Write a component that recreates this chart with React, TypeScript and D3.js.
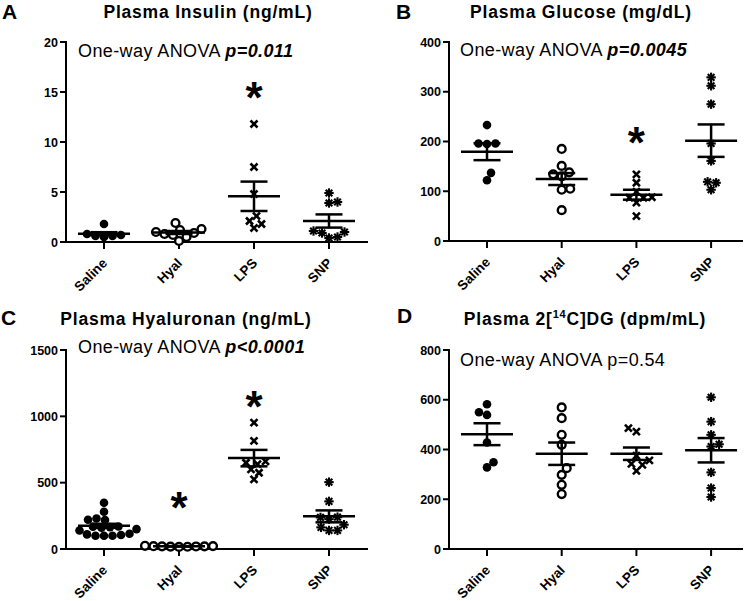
import React from 'react';
import * as d3 from 'd3';

// ---------- DATA ----------
const groups = ['Saline', 'Hyal', 'LPS', 'SNP'];

// A: Plasma insulin (ng/mL)
const insulinSaline = [1.8, 0.8, 0.7, 0.6, 0.6, 0.5];
const insulinHyal = [1.9, 1.3, 1.2, 1.0, 0.9, 0.8, 0.7, 0.5, 0.1];
const insulinLPS = [11.8, 7.5, 4.8, 2.6, 2.1, 1.8, 1.4];
const insulinSNP = [4.9, 4.0, 3.9, 1.1, 1.0, 0.9, 0.5, 0.4];
const insulinMean = [0.83, 0.95, 4.57, 2.1];
const insulinSEM = [0.15, 0.15, 1.47, 0.66];
const insulinTicks = [0, 5, 10, 15, 20];
const insulinStars = [{ group: 'LPS', value: 15.5 }];

// B: Plasma glucose (mg/dL)
const glucoseSaline = [233, 196, 195, 196, 137, 122];
const glucoseHyal = [185, 151, 138, 134, 130, 105, 103, 62];
const glucoseLPS = [134, 117, 99, 88, 87, 87, 77, 50];
const glucoseSNP = [329, 312, 275, 196, 161, 119, 117, 103];
const glucoseMean = [179.5, 124.5, 93, 201.7];
const glucoseSEM = [17, 12, 10, 32.6];
const glucoseTicks = [0, 100, 200, 300, 400];
const glucoseStars = [{ group: 'LPS', value: 218 }];

// C: Plasma hyaluronan (ng/mL)
const haSaline = [348, 281, 230, 220, 218, 170, 165, 168, 160, 150, 140, 110, 105, 100, 100, 100, 115];
const haHyal = [24, 22, 21, 20, 20, 19, 18, 17, 16];
const haLPS = [953, 815, 660, 650, 640, 600, 575, 525];
const haSNP = [504, 359, 240, 238, 225, 183, 163, 140, 140];
const haMean = [175, 20, 685, 246];
const haSEM = [15, 1.5, 62, 45];
const haTicks = [0, 500, 1000, 1500];
const haStars = [{ group: 'Hyal', value: 390 }, { group: 'LPS', value: 1150 }];

// D: Plasma 2[14C]DG (dpm/mL)
const dgSaline = [582, 550, 539, 428, 349, 328];
const dgHyal = [569, 526, 459, 419, 325, 298, 258, 221];
const dgLPS = [486, 472, 375, 356, 342, 338, 314];
const dgSNP = [610, 512, 459, 421, 412, 308, 245, 209];
const dgMean = [461.5, 383, 383, 397];
const dgSEM = [44, 45, 25, 49];
const dgTicks = [0, 200, 400, 600, 800];
const dgStars: { group: string; value: number }[] = [];

// ---------- STYLE / LAYOUT ----------
const FONT = "Arial, 'Liberation Sans', Helvetica, sans-serif";

type Star = { group: string; value: number };
type Layout = {
  axisX: number; axisEnd: number; y0: number; yTop: number; first: number; step: number;
  titleX: number; titleY: number; letterX: number; letterY: number; anovaX: number; anovaY: number;
};
type Cfg = {
  letter: string;
  title: React.ReactNode;
  anova: string; pText: string; pBold: boolean;
  max: number; ticks: number[];
  values: number[][]; means: number[]; sems: number[]; stars: Star[];
  layout: Layout;
};

function swarm(vals: number[], y: (v: number) => number, D: number) {
  const sorted = [...vals].sort((a, b) => a - b);
  const placed: { v: number; dx: number; py: number }[] = [];
  let side = 1;
  for (const v of sorted) {
    const py = y(v);
    let chosen = 0;
    for (let k = 0; k < 400; k++) {
      const mag = k * 0.5;
      const cands = k === 0 ? [0] : [side * mag, -side * mag];
      let found: number | null = null;
      for (const c of cands) {
        if (placed.every(p => (c - p.dx) ** 2 + (py - p.py) ** 2 >= D * D)) { found = c; break; }
      }
      if (found !== null) { chosen = found; break; }
    }
    if (chosen !== 0) side = -Math.sign(chosen);
    placed.push({ v, dx: chosen, py });
  }
  return placed;
}

function Marker({ type, x, y }: { type: number; x: number; y: number }) {
  if (type === 0) return <circle cx={x} cy={y} r={4.3} fill="#000" />;
  if (type === 1) return <circle cx={x} cy={y} r={3.9} fill="#fff" stroke="#000" strokeWidth={2.4} />;
  if (type === 2) {
    const s = 3.5;
    return (
      <g stroke="#000" strokeWidth={2.6} strokeLinecap="butt">
        <line x1={x - s} y1={y - s} x2={x + s} y2={y + s} />
        <line x1={x - s} y1={y + s} x2={x + s} y2={y - s} />
      </g>
    );
  }
  const r = 4.7;
  const angles = [0, 45, 90, 135];
  return (
    <g stroke="#000" strokeWidth={2.1}>
      {angles.map(a => {
        const rad = (a * Math.PI) / 180;
        return <line key={a} x1={x - r * Math.cos(rad)} y1={y - r * Math.sin(rad)} x2={x + r * Math.cos(rad)} y2={y + r * Math.sin(rad)} />;
      })}
      <circle cx={x} cy={y} r={2} fill="#000" stroke="none" />
    </g>
  );
}

function Panel({ cfg }: { cfg: Cfg }) {
  const L = cfg.layout;
  const y = d3.scaleLinear().domain([0, cfg.max]).range([L.y0, L.yTop]);
  const x = d3.scalePoint<string>().domain(groups).range([L.first, L.first + L.step * (groups.length - 1)]);
  const meanHalf = 26;
  const capHalf = 13.5;
  const starSize = 44;
  return (
    <g>
      <text x={L.letterX} y={L.letterY} fontFamily={FONT} fontWeight="bold" fontSize={21}>{cfg.letter}</text>
      <text x={L.titleX} y={L.titleY} fontFamily={FONT} fontWeight="bold" fontSize={17.5} letterSpacing={0.8} textAnchor="middle">{cfg.title}</text>
      <text x={L.anovaX} y={L.anovaY} fontFamily={FONT} fontSize={18} letterSpacing={0.4}>
        <tspan>{cfg.anova}</tspan>
        <tspan fontWeight={cfg.pBold ? 'bold' : 'normal'} fontStyle={cfg.pBold ? 'italic' : 'normal'}>{cfg.pText}</tspan>
      </text>
      {/* axes */}
      <line x1={L.axisX} y1={L.yTop - 1} x2={L.axisX} y2={L.y0 + 1} stroke="#000" strokeWidth={2} />
      <line x1={L.axisX - 1} y1={L.y0} x2={L.axisEnd} y2={L.y0} stroke="#000" strokeWidth={2} />
      {cfg.ticks.map(t => (
        <g key={t}>
          <line x1={L.axisX - 6} x2={L.axisX} y1={y(t)} y2={y(t)} stroke="#000" strokeWidth={2} />
          <text x={L.axisX - 8} y={y(t)} dy="0.36em" textAnchor="end" fontFamily={FONT} fontWeight="bold" fontSize={12.5}>{t}</text>
        </g>
      ))}
      {groups.map(g => (
        <g key={g}>
          <line x1={x(g)} x2={x(g)} y1={L.y0} y2={L.y0 + 7} stroke="#000" strokeWidth={2} />
          <text transform={`translate(${(x(g) as number) + 4},${L.y0 + 22}) rotate(-45)`} textAnchor="end" fontFamily={FONT} fontWeight="bold" fontSize={13.5}>{g}</text>
        </g>
      ))}
      {/* points */}
      {cfg.values.map((vals, gi) => {
        const cx = x(groups[gi]) as number;
        const pts = swarm(vals, y, 8.3);
        return (
          <g key={gi}>
            {pts.map((p, i) => <Marker key={i} type={gi} x={cx + p.dx} y={p.py} />)}
          </g>
        );
      })}
      {/* mean ± SEM */}
      {cfg.means.map((m, gi) => {
        const cx = x(groups[gi]) as number;
        const hi = y(m + cfg.sems[gi]);
        const lo = y(m - cfg.sems[gi]);
        return (
          <g key={gi} stroke="#000" strokeWidth={2.5}>
            <line x1={cx - meanHalf} x2={cx + meanHalf} y1={y(m)} y2={y(m)} />
            <line x1={cx} x2={cx} y1={hi} y2={lo} />
            <line x1={cx - capHalf} x2={cx + capHalf} y1={hi} y2={hi} />
            <line x1={cx - capHalf} x2={cx + capHalf} y1={lo} y2={lo} />
          </g>
        );
      })}
      {cfg.stars.map((s, i) => (
        <text key={i} x={x(s.group)} y={y(s.value)} dy={starSize * 0.58} textAnchor="middle" fontFamily={FONT} fontWeight="bold" fontSize={starSize}>*</text>
      ))}
    </g>
  );
}

const leftTop: Layout = { axisX: 66, axisEnd: 368, y0: 242, yTop: 42, first: 104, step: 75, titleX: 208, titleY: 18, letterX: 2, letterY: 19, anovaX: 78, anovaY: 57 };
const rightTop: Layout = { axisX: 449, axisEnd: 743, y0: 241, yTop: 42, first: 487, step: 74.7, titleX: 581, titleY: 18, letterX: 396, letterY: 19, anovaX: 460, anovaY: 56 };
const leftBottom: Layout = { axisX: 66, axisEnd: 368, y0: 549, yTop: 350, first: 104, step: 75, titleX: 186, titleY: 325, letterX: 1, letterY: 325, anovaX: 78, anovaY: 353 };
const rightBottom: Layout = { axisX: 449, axisEnd: 743, y0: 549, yTop: 350, first: 487, step: 74.7, titleX: 585, titleY: 325, letterX: 397, letterY: 323, anovaX: 460, anovaY: 366 };

const panels: Cfg[] = [
  { letter: 'A', title: 'Plasma Insulin (ng/mL)', anova: 'One-way ANOVA ', pText: 'p=0.011', pBold: true, max: 20, ticks: insulinTicks,
    values: [insulinSaline, insulinHyal, insulinLPS, insulinSNP], means: insulinMean, sems: insulinSEM, stars: insulinStars, layout: leftTop },
  { letter: 'B', title: 'Plasma Glucose (mg/dL)', anova: 'One-way ANOVA ', pText: 'p=0.0045', pBold: true, max: 400, ticks: glucoseTicks,
    values: [glucoseSaline, glucoseHyal, glucoseLPS, glucoseSNP], means: glucoseMean, sems: glucoseSEM, stars: glucoseStars, layout: rightTop },
  { letter: 'C', title: 'Plasma Hyaluronan (ng/mL)', anova: 'One-way ANOVA ', pText: 'p<0.0001', pBold: true, max: 1500, ticks: haTicks,
    values: [haSaline, haHyal, haLPS, haSNP], means: haMean, sems: haSEM, stars: haStars, layout: leftBottom },
  { letter: 'D', title: (<>Plasma 2[<tspan fontSize={11} dy={-7}>14</tspan><tspan dy={7}>C]DG (dpm/mL)</tspan></>), anova: 'One-way ANOVA ', pText: 'p=0.54', pBold: false, max: 800, ticks: dgTicks,
    values: [dgSaline, dgHyal, dgLPS, dgSNP], means: dgMean, sems: dgSEM, stars: dgStars, layout: rightBottom },
];

export default function App() {
  return (
    <svg width={750} height={601} style={{ position: 'absolute', left: 0, top: 0, background: '#fff' }}>
      <rect width={750} height={601} fill="#fff" />
      {panels.map((p, i) => <Panel key={i} cfg={p} />)}
    </svg>
  );
}
